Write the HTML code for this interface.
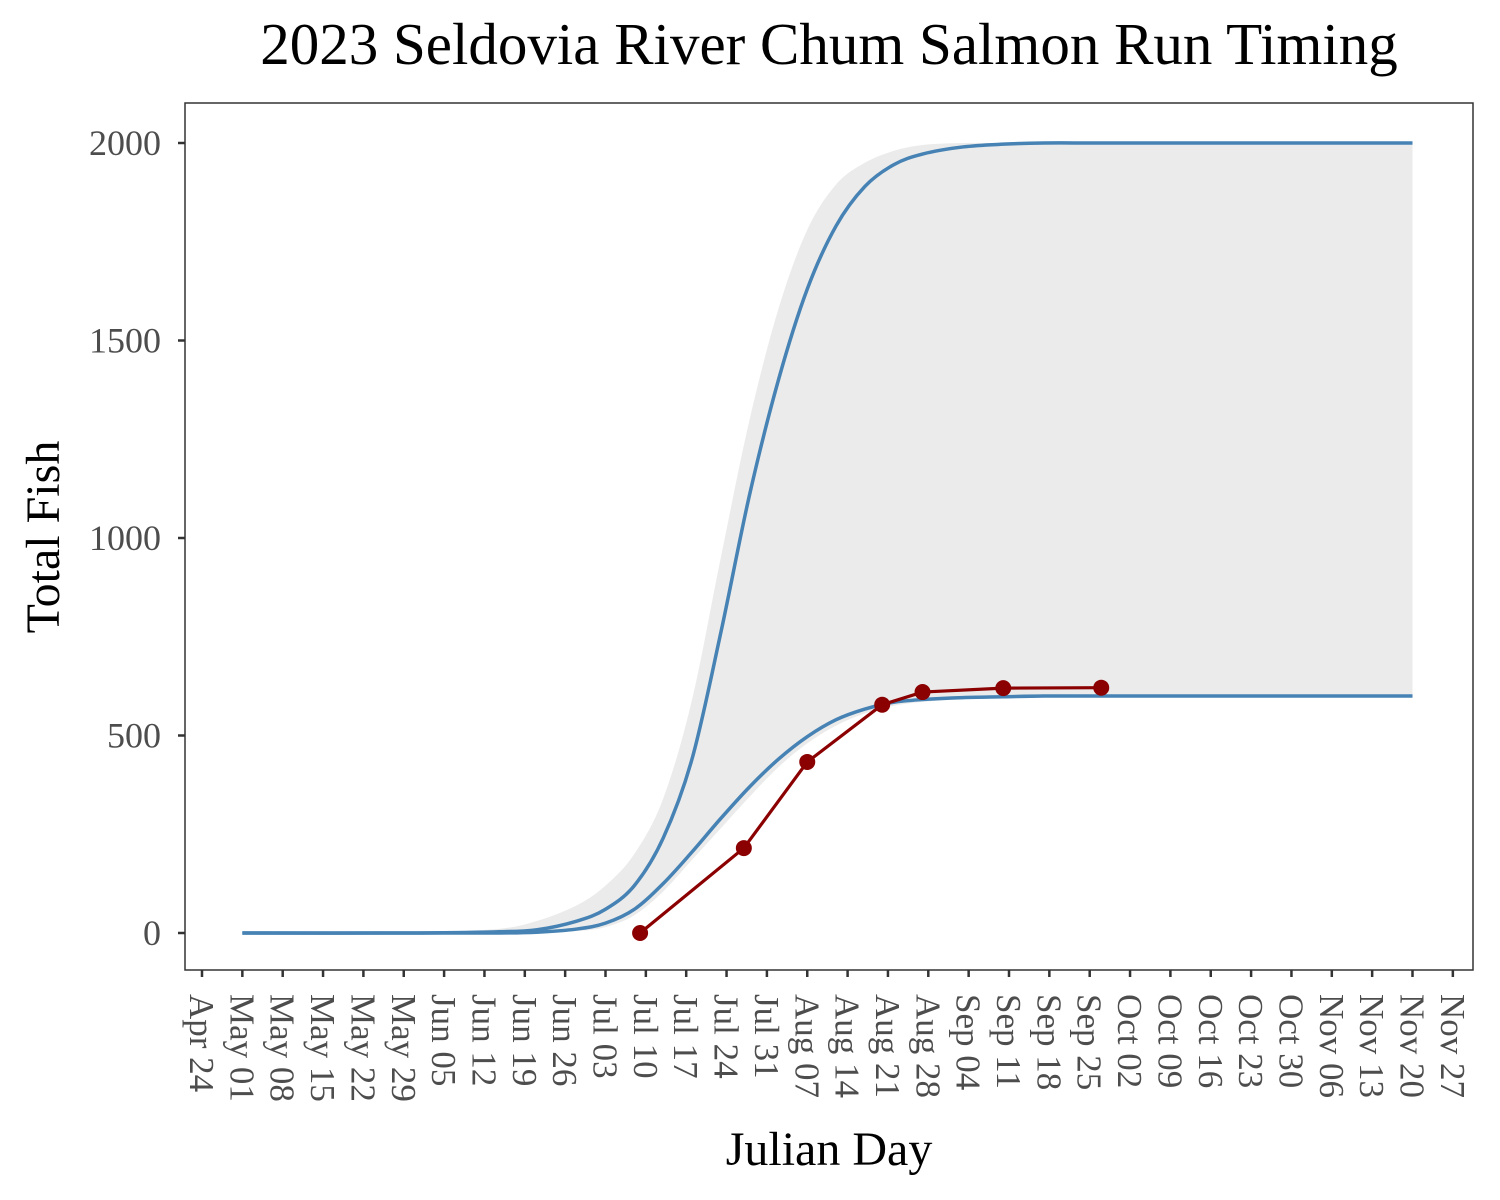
<!DOCTYPE html>
<html><head><meta charset="utf-8"><style>
body{margin:0;background:#fff}
svg{display:block;font-family:"Liberation Serif",serif}
</style></head><body>
<svg id="chart" width="1500" height="1200">
<rect width="1500" height="1200" fill="#fff"/>
<text x="829" y="64" font-size="59" text-anchor="middle" fill="#000">2023 Seldovia River Chum Salmon Run Timing</text>
<g id="plot"></g>
<rect x="185" y="103" width="1288" height="867" fill="none" stroke="#333" stroke-width="1.5"/>
<g id="yaxis"></g>
<g id="xaxis"></g>
<text x="829" y="1165" font-size="48" text-anchor="middle" fill="#000">Julian Day</text>
<text transform="translate(59,537) rotate(-90)" font-size="48" text-anchor="middle" fill="#000">Total Fish</text>
</svg>
<script>
const curveDays = [121,150,165,172,179,184,189,194,199,204,209,214,219,224,229,234,239,246,253,260,270,290,324];
const upperCurve = [0,0,3,8,30,60,120,240,440,760,1110,1400,1630,1790,1890,1945,1972,1990,1997,2000,2000,2000,2000];
const lowerCurve = [0,0,0,2,10,25,60,125,205,290,370,440,497,540,567,584,591,596,598,600,600,600,600];
const ribbonHigh = [0,1,10,30,70,120,200,340,590,950,1300,1580,1780,1895,1950,1980,1995,2000,2000,2000,2000,2000,2000];
const ribbonLow = [0,0,0,1,5,15,45,105,185,265,345,420,480,525,556,575,585,592,596,599,600,600,600];
const obsDays = [190,208,219,232,239,253,270];
const obsFish = [0,215,433,578,610,620,621];
const yTicks = [0,500,1000,1500,2000];
const xTickLabels = ["Apr 24","May 01","May 08","May 15","May 22","May 29","Jun 05","Jun 12","Jun 19","Jun 26","Jul 03","Jul 10","Jul 17","Jul 24","Jul 31","Aug 07","Aug 14","Aug 21","Aug 28","Sep 04","Sep 11","Sep 18","Sep 25","Oct 02","Oct 09","Oct 16","Oct 23","Oct 30","Nov 06","Nov 13","Nov 20","Nov 27"];
const firstTickDay = 114;

const NS="http://www.w3.org/2000/svg";
const xs = d => 202 + (d - firstTickDay) * 40.35 / 7;
const ys = v => 933 - v * 0.395;
function mk(tag, attrs, parent){const e=document.createElementNS(NS,tag);for(const k in attrs)e.setAttribute(k,attrs[k]);parent.appendChild(e);return e;}
function smooth(pts){
  let d=`M${pts[0][0]},${pts[0][1]}`;
  for(let i=0;i<pts.length-1;i++){
    const p0=pts[Math.max(0,i-1)],p1=pts[i],p2=pts[i+1],p3=pts[Math.min(pts.length-1,i+2)];
    const c1=[p1[0]+(p2[0]-p0[0])/6,p1[1]+(p2[1]-p0[1])/6];
    const c2=[p2[0]-(p3[0]-p1[0])/6,p2[1]-(p3[1]-p1[1])/6];
    d+=` C${c1[0]},${c1[1]} ${c2[0]},${c2[1]} ${p2[0]},${p2[1]}`;
  }
  return d;
}
const plot=document.getElementById('plot');
const hi=curveDays.map((d,i)=>[xs(d),ys(ribbonHigh[i])]);
const lo=curveDays.map((d,i)=>[xs(d),ys(ribbonLow[i])]).reverse();
const rib=mk('path',{d:smooth(hi)+' L'+smooth(lo).slice(1)+' Z',fill:'#ebebeb',stroke:'none'},plot);


const up=mk('path',{d:smooth(curveDays.map((d,i)=>[xs(d),ys(upperCurve[i])])),fill:'none',stroke:'#4682b4','stroke-width':3.5},plot);


const lw=mk('path',{d:smooth(curveDays.map((d,i)=>[xs(d),ys(lowerCurve[i])])),fill:'none',stroke:'#4682b4','stroke-width':3.5},plot);


const obsLine=mk('polyline',{points:obsDays.map((d,i)=>xs(d)+','+ys(obsFish[i])).join(' '),fill:'none',stroke:'#8b0000','stroke-width':3.2},plot);


obsDays.forEach((d,i)=>{
  const c=mk('circle',{cx:xs(d),cy:ys(obsFish[i]),r:8,fill:'#8b0000'},plot);
  
  
});
const ya=document.getElementById('yaxis');
yTicks.forEach(v=>{
  const t=mk('line',{x1:178,x2:185,y1:ys(v),y2:ys(v),stroke:'#333','stroke-width':2.5},ya);
  
  
  const l=mk('text',{x:161,y:ys(v)+12,'font-size':36,'text-anchor':'end',fill:'#4d4d4d'},ya);
  l.textContent=v;
  
  
});
const xa=document.getElementById('xaxis');
xTickLabels.forEach((lab,i)=>{
  const x=xs(firstTickDay+7*i);
  const t=mk('line',{x1:x,x2:x,y1:970,y2:977,stroke:'#333','stroke-width':2.5},xa);
  
  
  const l=mk('text',{transform:`translate(${x-12},994) rotate(90)`,'font-size':35,fill:'#4d4d4d'},xa);
  l.textContent=lab;
  
  
});
</script>
</body></html>
